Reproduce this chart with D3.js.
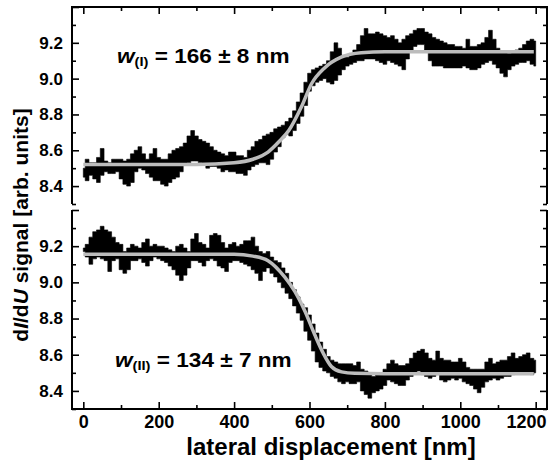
<!DOCTYPE html>
<html>
<head>
<meta charset="utf-8">
<script src="https://cdn.jsdelivr.net/npm/d3@7"></script>
<style>
  body { margin: 0; background: #fff; }
  svg { display: block; font-family: "Liberation Sans", Arial, Helvetica, sans-serif; font-weight: bold; }
</style>
</head>
<body>
<svg></svg>
<script>
// sampling grid of the scans (nm)
const xGrid = d3.range(0, 1201, 10);

// upper panel (I): upper / lower edge of the noisy dI/dU trace, read every 10 nm
const topHi = [8.50,8.55,8.53,8.53,8.56,8.61,8.54,8.53,8.55,8.55,
               8.55,8.54,8.55,8.58,8.60,8.62,8.58,8.55,8.58,8.61,
               8.56,8.55,8.55,8.58,8.60,8.61,8.62,8.64,8.68,8.71,
               8.68,8.66,8.65,8.64,8.62,8.60,8.59,8.58,8.57,8.59,
               8.59,8.57,8.57,8.56,8.60,8.62,8.65,8.66,8.68,8.69,
               8.70,8.72,8.73,8.74,8.76,8.78,8.82,8.87,8.92,8.98,
               9.03,9.05,9.06,9.07,9.08,9.10,9.15,9.20,9.17,9.13,
               9.12,9.14,9.16,9.19,9.24,9.28,9.25,9.25,9.26,9.25,
               9.24,9.23,9.24,9.22,9.20,9.22,9.24,9.25,9.27,9.28,
               9.28,9.26,9.25,9.23,9.22,9.21,9.20,9.19,9.19,9.18,
               9.18,9.17,9.22,9.18,9.18,9.19,9.20,9.23,9.27,9.22,
               9.17,9.15,9.15,9.14,9.15,9.16,9.17,9.19,9.21,9.22,
               9.21];
const topLo = [8.45,8.43,8.46,8.44,8.42,8.46,8.48,8.47,8.47,8.48,
               8.44,8.41,8.40,8.42,8.48,8.50,8.49,8.47,8.45,8.43,
               8.43,8.41,8.40,8.42,8.44,8.45,8.48,8.52,8.53,8.54,
               8.54,8.53,8.52,8.50,8.51,8.51,8.50,8.48,8.49,8.48,
               8.48,8.47,8.47,8.46,8.49,8.51,8.52,8.53,8.53,8.52,
               8.55,8.59,8.62,8.67,8.69,8.68,8.71,8.75,8.79,8.85,
               8.93,8.96,8.98,8.99,9.00,8.98,8.97,8.99,9.02,9.05,
               9.07,9.08,9.09,9.10,9.10,9.11,9.11,9.11,9.10,9.09,
               9.08,9.10,9.09,9.08,9.07,9.05,9.11,9.15,9.18,9.19,
               9.19,9.16,9.10,9.07,9.07,9.07,9.06,9.06,9.06,9.06,
               9.06,9.07,9.06,9.05,9.05,9.06,9.08,9.09,9.10,9.08,
               9.06,9.03,9.01,9.05,9.07,9.08,9.09,9.09,9.10,9.08,
               9.07];

// lower panel (II)
const botHi = [9.19,9.21,9.25,9.28,9.29,9.31,9.29,9.28,9.25,9.22,
               9.21,9.17,9.19,9.21,9.20,9.19,9.22,9.24,9.20,9.21,
               9.20,9.20,9.19,9.18,9.17,9.20,9.21,9.19,9.17,9.24,
               9.27,9.22,9.21,9.19,9.26,9.27,9.26,9.22,9.19,9.21,
               9.22,9.20,9.21,9.23,9.23,9.25,9.20,9.17,9.16,9.17,
               9.14,9.12,9.11,9.08,9.05,9.00,8.96,8.92,8.88,8.86,
               8.82,8.77,8.72,8.67,8.63,8.59,8.57,8.56,8.55,8.55,
               8.55,8.55,8.54,8.56,8.52,8.51,8.49,8.48,8.50,8.49,
               8.52,8.55,8.57,8.55,8.54,8.54,8.55,8.58,8.61,8.62,
               8.63,8.61,8.58,8.57,8.62,8.58,8.57,8.57,8.56,8.56,
               8.58,8.56,8.53,8.52,8.52,8.52,8.52,8.56,8.58,8.55,
               8.56,8.57,8.57,8.59,8.61,8.58,8.59,8.60,8.61,8.58,
               8.57];
const botLo = [9.17,9.14,9.10,9.13,9.14,9.13,9.12,9.06,9.12,9.13,
               9.07,9.05,9.07,9.12,9.12,9.13,9.11,9.09,9.12,9.14,
               9.13,9.12,9.11,9.09,9.07,9.04,9.01,9.04,9.08,9.12,
               9.12,9.11,9.09,9.12,9.13,9.12,9.09,9.08,9.06,9.11,
               9.12,9.12,9.11,9.10,9.09,9.07,9.05,9.01,9.06,9.08,
               9.05,9.03,9.00,8.97,8.94,8.91,8.87,8.83,8.79,8.73,
               8.68,8.62,8.56,8.53,8.51,8.50,8.48,8.47,8.45,8.44,
               8.45,8.44,8.44,8.45,8.40,8.38,8.36,8.39,8.40,8.41,
               8.43,8.46,8.45,8.44,8.43,8.43,8.46,8.48,8.50,8.51,
               8.49,8.48,8.47,8.48,8.49,8.46,8.45,8.46,8.47,8.46,
               8.47,8.45,8.44,8.43,8.41,8.39,8.42,8.45,8.46,8.47,
               8.46,8.47,8.48,8.48,8.49,8.50,8.50,8.50,8.50,8.49,
               8.50];

// fitted step profiles (grey curves)
const fitTopX = [0, 300, 400, 450, 490, 520, 545, 578, 605, 640, 684, 737, 800, 1195];
const fitTopY = [8.52, 8.52, 8.53, 8.55, 8.59, 8.65, 8.71, 8.84, 8.97, 9.06, 9.12, 9.145, 9.15, 9.15];
const fitBotX = [0, 400, 450, 490, 534, 561, 588, 614, 636, 658, 685, 720, 800, 1195];
const fitBotY = [9.155, 9.155, 9.145, 9.12, 9.03, 8.95, 8.84, 8.71, 8.61, 8.535, 8.505, 8.497, 8.495, 8.495];

const xMajor = [0, 200, 400, 600, 800, 1000, 1200];
const xMinor = [100, 300, 500, 700, 900, 1100];
const yLabels = [8.4, 8.6, 8.8, 9.0, 9.2];
const yMajor = [8.4, 8.6, 8.8, 9.0, 9.2, 9.4];
const yMinor = [8.3, 8.5, 8.7, 8.9, 9.1, 9.3];

const w = 548;
const h = 465;
const left = 72, right = 547;

const svg = d3.select("svg").attr("width", w).attr("height", h);

const xScale = d3.scaleLinear().domain([-30, 1230]).range([left, right]);
const yTop = d3.scaleLinear().domain([8.3, 9.4]).range([204, 7]);
const yBot = d3.scaleLinear().domain([8.3, 9.4]).range([409, 210]);

function drawTrace(hi, lo, yScale, fx, fy) {
  const area = d3.area()
                 .x((d, i) => xScale(xGrid[i]))
                 .y0((d, i) => yScale(lo[i]))
                 .y1((d, i) => yScale(hi[i]))
                 .curve(d3.curveStep);
  svg.append("path")
     .datum(hi)
     .attr("fill", "#000")
     .attr("stroke", "#000")
     .attr("stroke-width", 0.6)
     .attr("d", area);

  const fit = d3.line()
                .x((d, i) => xScale(fx[i]))
                .y((d, i) => yScale(fy[i]))
                .curve(d3.curveMonotoneX);
  svg.append("path")
     .datum(fy)
     .attr("fill", "none")
     .attr("stroke", "#bcbcbc")
     .attr("stroke-width", 3.5)
     .attr("d", fit);
}

drawTrace(topHi, topLo, yTop, fitTopX, fitTopY);
drawTrace(botHi, botLo, yBot, fitBotX, fitBotY);

// axes, ticks pointing inwards
function tickAxis(axis, tx, ty, labelled) {
  const g = svg.append("g")
               .attr("transform", "translate(" + tx + "," + ty + ")")
               .call(axis);
  g.select(".domain").remove();
  g.selectAll("line").attr("stroke", "#000").attr("stroke-width", 1.6);
  if (!labelled) g.selectAll("text").remove();
  return g;
}

[yTop, yBot].forEach(y => {
  tickAxis(d3.axisLeft(y).tickValues(yMajor).tickSize(-7).tickFormat(""), left, 0, false);
  tickAxis(d3.axisLeft(y).tickValues(yMinor).tickSize(-4).tickFormat(""), left, 0, false);
  tickAxis(d3.axisRight(y).tickValues(yMajor).tickSize(-7).tickFormat(""), right, 0, false);
  tickAxis(d3.axisRight(y).tickValues(yMinor).tickSize(-4).tickFormat(""), right, 0, false);
  const lab = svg.append("g")
                 .attr("transform", "translate(" + left + ",0)")
                 .call(d3.axisLeft(y).tickValues(yLabels).tickSize(0).tickPadding(9).tickFormat(d3.format(".1f")));
  lab.select(".domain").remove();
  lab.selectAll("text")
     .attr("fill", "#000")
     .style("font-size", "17px")
     .style("font-family", "'Liberation Sans', Arial, sans-serif")
     .style("font-weight", "bold");
});

tickAxis(d3.axisTop(xScale).tickValues(xMajor).tickSize(-7).tickFormat(""), 0, 7, false);
tickAxis(d3.axisTop(xScale).tickValues(xMinor).tickSize(-4).tickFormat(""), 0, 7, false);
tickAxis(d3.axisBottom(xScale).tickValues(xMinor).tickSize(-4).tickFormat(""), 0, 409, false);
const xg = tickAxis(d3.axisBottom(xScale).tickValues(xMajor).tickSize(-7).tickPadding(6).tickFormat(d3.format("d")), 0, 409, true);
xg.selectAll("text")
  .attr("fill", "#000")
  .style("font-size", "18px")
  .style("font-family", "'Liberation Sans', Arial, sans-serif")
  .style("font-weight", "bold");
// the last label sits against the right edge of the figure
xg.selectAll("text")
  .filter(d => d === 1200)
  .attr("text-anchor", "end")
  .attr("x", right - 1 - xScale(1200));

// frames: upper panel open at the bottom, lower panel open at the top
svg.append("path")
   .attr("d", "M" + left + ",204V7H" + right + "V204")
   .attr("fill", "none").attr("stroke", "#000").attr("stroke-width", 2);
svg.append("path")
   .attr("d", "M" + left + ",210V409H" + right + "V210")
   .attr("fill", "none").attr("stroke", "#000").attr("stroke-width", 2);

// axis titles
svg.append("text")
   .attr("x", 331).attr("y", 455)
   .attr("text-anchor", "middle")
   .style("font-size", "24px")
   .text("lateral displacement [nm]");

const yt = svg.append("text")
              .attr("transform", "translate(28,225) rotate(-90)")
              .attr("text-anchor", "middle")
              .style("font-size", "21px");
yt.append("tspan").text("d");
yt.append("tspan").style("font-style", "italic").text("I");
yt.append("tspan").text("/d");
yt.append("tspan").style("font-style", "italic").text("U");
yt.append("tspan").text(" signal [arb. units]");

// fit widths
function widthLabel(x, y, sub, rest) {
  const t = svg.append("text")
               .attr("transform", "translate(" + x + "," + y + ") scale(1.13,1)")
               .style("font-size", "20px");
  t.append("tspan").style("font-style", "italic").text("w");
  t.append("tspan").style("font-size", "13px").attr("dy", 3).text(sub);
  t.append("tspan").attr("dy", -3).text(rest);
}
widthLabel(117, 63, "(I)", " = 166 \u00b1 8 nm");
widthLabel(115, 367, "(II)", " = 134 \u00b1 7 nm");
</script>
</body>
</html>
